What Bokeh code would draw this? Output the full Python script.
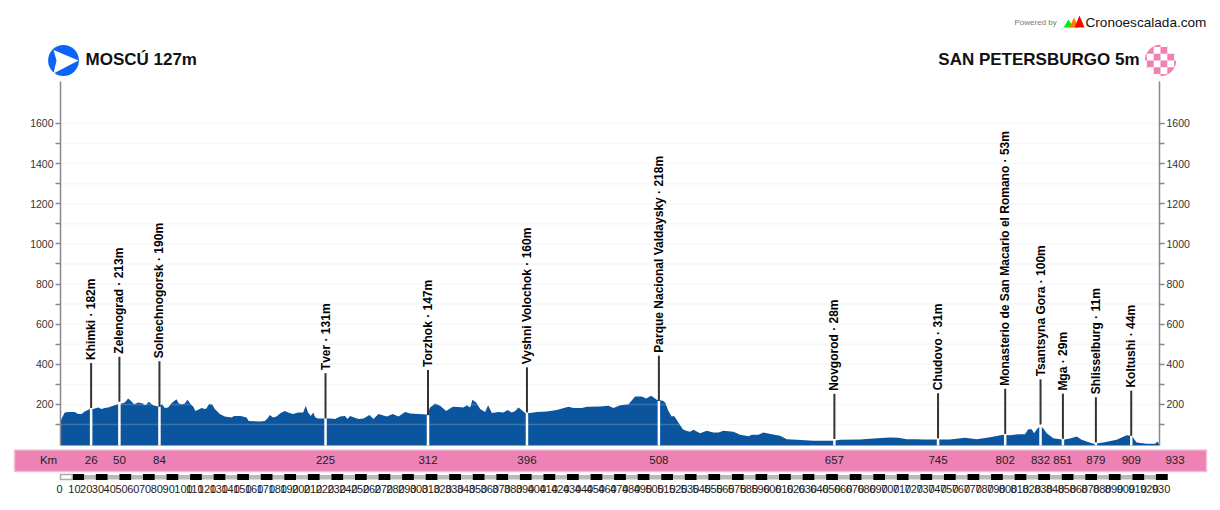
from math import pi
from bokeh.core.properties import value
from bokeh.embed import file_html
from bokeh.models import ColumnDataSource, FixedTicker, LinearAxis, Range1d
from bokeh.plotting import figure
from bokeh.resources import INLINE

# ---------- data ----------
profile_km = [0.2, 1.4, 3.6, 6.4, 12.1, 15, 17.8, 20.6, 24.8, 27.7, 32, 34.8, 37.6, 40.4, 44.7, 48.3, 51.7, 54.6, 57.4, 59.7,
              62.5, 65.9, 69.3, 72.1, 75, 78.6, 82.9, 86.3, 88.5, 91.4, 94.2, 98.4, 100.4, 103.2, 105.5, 107.8, 110.6, 112.6,
              114.6, 118.2, 119.7, 122.5, 123.9, 125.9, 128.7, 131, 135.2, 139.5, 145.1, 147.4, 153, 157.9, 159.8, 169.2,
              173.4, 175.7, 177.7, 180.5, 183.3, 187, 190.4, 193.2, 197.5, 201.7, 206, 208.2, 210.2, 212.5, 214.5, 216.4,
              218.7, 224.4, 228.9, 233.1, 237.4, 241.6, 243.6, 245.9, 249.3, 253, 257.2, 262.3, 265.7, 269.9, 277, 282.1,
              286.9, 292.6, 296.8, 311, 313.8, 318, 322.3, 327.4, 333, 337.9, 342.1, 344.9, 347.8, 349.7, 352.9, 356.3,
              360.5, 363, 366.2, 371.8, 376.1, 379.5, 383.1, 386, 388.8, 394.5, 398.7, 404.4, 412.9, 421.3, 431.2, 435.5,
              442.6, 446.8, 458, 465.2, 469.4, 475.1, 482.2, 487.8, 493.5, 497.2, 501.4, 506.2, 511.3, 513.3, 516.1, 518.9,
              520.9, 524.6, 528.3, 531.1, 534.5, 537.3, 543, 548.7, 554.3, 558.6, 562.8, 571.3, 577, 584, 586.9, 592.5,
              596.8, 603.8, 610.9, 616.6, 625, 639.2, 656.2, 661.9, 678.8, 690.2, 704.2, 711.3, 718.4, 726.8, 732.5, 745.2,
              755.1, 767.9, 777.8, 789.1, 800.4, 806, 813.2, 818.8, 821.6, 824.5, 826.5, 830.1, 833.8, 837.2, 842.9, 851.4,
              857, 862.7, 866.9, 876.8, 885.3, 896.6, 905.1, 909.4, 913.6, 922.1, 929.2, 931.4, 932.8]
profile_m = [118, 135, 160, 163, 163, 152, 152, 165, 177, 177, 185, 177, 182, 185, 193, 201, 205, 210, 230, 218,
             201, 210, 206, 196, 213, 196, 190, 201, 182, 185, 206, 226, 205, 201, 205, 223, 201, 190,
             168, 177, 182, 177, 180, 201, 201, 177, 152, 140, 135, 143, 143, 135, 118, 115,
             118, 130, 147, 135, 140, 157, 168, 160, 152, 160, 160, 193, 160, 143, 160, 135,
             130, 130, 130, 127, 140, 143, 127, 143, 135, 127, 130, 147, 127, 152, 140, 153,
             140, 163, 155, 150, 185, 205, 193, 168, 188, 187, 185, 196, 185, 223, 210, 177,
             163, 196, 157, 163, 160, 173, 160, 168, 185, 157, 157, 163, 165, 172, 188, 182,
             182, 188, 190, 193, 182, 196, 201, 240, 240, 230, 243, 223, 218, 210, 168, 140,
             143, 110, 77, 69, 64, 74, 57, 69, 60, 60, 69, 64, 49, 42, 49, 49,
             60, 52, 44, 27, 24, 19, 19, 24, 26, 30, 35, 34, 27, 27, 26, 26,
             26, 34, 27, 37, 49, 47, 52, 52, 77, 77, 57, 85, 85, 57, 32, 24,
             30, 40, 24, 4, 10, 24, 47, 44, 10, 4, 4, 15, 2]

place_names = ["Khimki", "Zelenograd", "Solnechnogorsk", "Tver", "Torzhok", "Vyshni Volochok",
               "Parque Nacional Valdaysky", "Novgorod", "Chudovo", "Monasterio de San Macario el Romano",
               "Tsantsyna Gora", "Mga", "Shlisselburg", "Koltushi"]
place_km = [26, 50, 84, 225, 312, 396, 508, 657, 745, 802, 832, 851, 879, 909]
place_m = [182, 213, 190, 131, 147, 160, 218, 28, 31, 53, 100, 29, 11, 44]
y_major = [200, 400, 600, 800, 1000, 1200, 1400, 1600]
y_minor = [100, 300, 500, 700, 900, 1100, 1300, 1500]
ruler_ticks = list(range(0, 931, 10))
start_title = "MOSCÚ 127m"
end_title = "SAN PETERSBURGO 5m"
total_km = 933

# ---------- style and page mapping ----------
FONT = "Liberation Sans"
BLUE = "#0b559f"
PINK = "#ee82b4"
STEM = 225          # length of the dark stem, in elevation units
W, H = 1216, 500
PX_KM = 1099 / total_km
PX_M = 0.2007


def X(px):
    return (px - 60) / PX_KM


def Y(py):
    return (444.1 - py) / PX_M


def XS(values):
    return [X(v) for v in values]


def YS(values):
    return [Y(v) for v in values]


p = figure(width=W, height=H, x_range=Range1d(X(0), X(W)), y_range=Range1d(Y(H), Y(0)),
           x_axis_type=None, y_axis_type=None, toolbar_location=None, output_backend="svg",
           min_border=0, outline_line_color=None)

# ---------- profile ----------
base = Y(445)
p.varea(x=profile_km, y1=[base] * len(profile_km), y2=profile_m, fill_color=BLUE)

# grid lines lie over the area
grid_levels = y_major + y_minor
p.segment(x0=[0] * len(grid_levels), x1=[total_km] * len(grid_levels), y0=grid_levels, y1=grid_levels,
          line_color="#e0e0e0", line_alpha=0.22, line_width=1.5)

stem_top = [m + STEM for m in place_m]
src = ColumnDataSource(dict(km=place_km, m=place_m, top=stem_top,
                            label=[f"{n} · {m}m" for n, m in zip(place_names, place_m)],
                            base=[base] * len(place_km)))
p.segment(x0="km", y0="base", x1="km", y1="m", source=src, line_color="white", line_width=2.5)
p.segment(x0="km", y0="m", x1="km", y1="top", source=src, line_color="#333333", line_width=2)
p.text(x="km", y="top", text="label", source=src, angle=pi / 2, y_offset=-3, text_align="left",
       text_baseline="middle", text_font=value(FONT), text_font_style="bold", text_font_size="12px",
       text_color="#000000")

# ---------- elevation axes ----------
ticker = FixedTicker(ticks=y_major, minor_ticks=y_minor)
left = LinearAxis(fixed_location=0, bounds=(base, Y(81)))
right = LinearAxis(fixed_location=total_km, bounds=(base, Y(81)))
p.add_layout(left, "left")
p.add_layout(right, "right")
for ax in (left, right):
    ax.ticker = ticker
    ax.axis_line_color = "#888888"
    ax.axis_line_width = 1.5
    ax.major_tick_line_color = "#888888"
    ax.minor_tick_line_color = "#888888"
    ax.major_tick_in = 0
    ax.major_tick_out = 5
    ax.minor_tick_in = 0
    ax.minor_tick_out = 5
    ax.major_tick_line_width = 1.5
    ax.minor_tick_line_width = 1.5
    ax.major_label_text_font = FONT
    ax.major_label_text_font_size = "10.5px"
    ax.major_label_text_color = "#333333"
    ax.major_label_standoff = 2

# ---------- header ----------
p.circle(x=[X(63)], y=[Y(60)], radius=15.4 / PX_KM, fill_color="#0a64fa", line_color=None)
p.patch(x=XS([53, 78, 53, 56]), y=YS([49.5, 60, 73, 60]), fill_color="white", line_color=None)
CELL = 6.8
left_e, right_e, top_e, bottom_e = [], [], [], []
for i in range(-3, 3):
    for j in range(-3, 3):
        if (i + j) % 2 == 0:
            left_e.append(X(1160 + i * CELL))
            right_e.append(X(1160 + (i + 1) * CELL))
            top_e.append(Y(60 + j * CELL))
            bottom_e.append(Y(60 + (j + 1) * CELL))
p.quad(left=left_e, right=right_e, top=top_e, bottom=bottom_e, fill_color=PINK, line_color=None)
p.annulus(x=[X(1160)], y=[Y(60)], inner_radius=15.7 / PX_KM, outer_radius=30 / PX_KM,
          fill_color="white", line_color=None)
p.text(x=[X(85)], y=[Y(59)], text=[start_title], text_font=value(FONT), text_font_style="bold",
       text_font_size="17px", text_baseline="middle", text_color="#111111")
p.text(x=[X(1139)], y=[Y(59)], text=[end_title], text_font=value(FONT), text_font_style="bold",
       text_font_size="17px", text_align="right", text_baseline="middle", text_color="#111111")
p.text(x=[X(1014)], y=[Y(22)], text=["Powered by"], text_font=value(FONT), text_font_size="8px",
       text_baseline="middle", text_color="#777777")
p.patch(x=XS([1063, 1068, 1073]), y=YS([27, 19, 27]), fill_color="#00ee00", line_color=None)
p.patch(x=XS([1069, 1073.5, 1078]), y=YS([27, 17, 27]), fill_color="#ff7a00", line_color=None)
p.patch(x=XS([1074, 1079, 1084]), y=YS([27, 15, 27]), fill_color="#ff0000", line_color=None)
p.text(x=[X(1085)], y=[Y(22)], text=["Cronoescalada.com"], text_font=value(FONT), text_font_size="13.6px",
       text_baseline="middle", text_color="#111111")

# ---------- km band ----------
p.quad(left=[X(14)], right=[X(1206)], top=[Y(449.5)], bottom=[Y(471)], fill_color=PINK,
       line_color="#f5bcd8", line_width=1.5)
band_labels = [str(k) for k in place_km]
p.text(x=place_km, y=[Y(459.7)] * len(place_km), text=band_labels, text_align="center", text_baseline="middle",
       text_font=value(FONT), text_font_size="11.5px", text_color="#222222")
p.text(x=[X(48), X(1174.5)], y=[Y(459.7)] * 2, text=["Km", str(total_km)], text_align="center",
       text_baseline="middle", text_font=value(FONT), text_font_size="11.5px", text_color="#222222")

# ---------- ruler ----------
black_l = [t for t in ruler_ticks if t % 20 == 10]
gray_l = [t for t in ruler_ticks if t % 20 == 0 and 0 < t < 930]
p.quad(left=gray_l, right=[t + 10 for t in gray_l], top=[Y(474.5)] * len(gray_l), bottom=[Y(479)] * len(gray_l),
       fill_color="#b9b9b9", line_color=None)
p.quad(left=black_l, right=[t + 10 for t in black_l], top=[Y(473.5)] * len(black_l), bottom=[Y(479.5)] * len(black_l),
       fill_color="#000000", line_color=None)
p.quad(left=[930], right=[total_km], top=[Y(473.5)], bottom=[Y(479.5)], fill_color="#000000", line_color=None)
p.quad(left=[0], right=[10], top=[Y(474)], bottom=[Y(479)], fill_color="white", line_color="#aaaaaa", line_width=1.5)
p.text(x=ruler_ticks, y=[Y(488.7)] * len(ruler_ticks), text=[str(t) for t in ruler_ticks], x_offset=-4,
       text_align="left", text_baseline="middle", text_font=value(FONT), text_font_size="11px",
       text_color="#222222")

open("out.html", "w").write(file_html(p, INLINE))
